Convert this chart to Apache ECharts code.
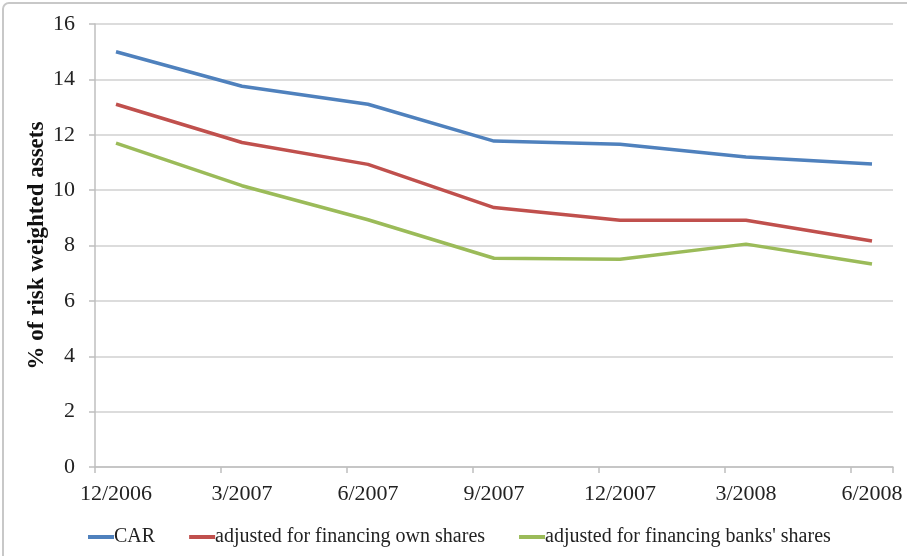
<!DOCTYPE html>
<html>
<head>
<meta charset="utf-8">
<script src="https://cdn.jsdelivr.net/npm/echarts@6/dist/echarts.min.js"></script>
<style>
  html, body { margin: 0; padding: 0; background: #fff; }
  #chart { width: 907px; height: 556px; }
</style>
</head>
<body>
<div id="chart"></div>
<script>
// Quarter-end observations (labels as shown on the axis)
const quarters = ['12/2006', '3/2007', '6/2007', '9/2007', '12/2007', '3/2008', '6/2008'];
const carValues = [15.0, 13.75, 13.1, 11.77, 11.66, 11.2, 10.94];
const ownSharesValues = [13.1, 11.72, 10.93, 9.37, 8.91, 8.91, 8.16];
const banksSharesValues = [11.7, 10.16, 8.93, 7.54, 7.5, 8.05, 7.33];
const yTicks = [0, 2, 4, 6, 8, 10, 12, 14, 16];

// Monthly date axis from the first to the last quarter
function buildMonths(first, last) {
  const [m0, y0] = first.split('/').map(Number);
  const [m1, y1] = last.split('/').map(Number);
  const out = [];
  let m = m0, y = y0;
  while (y < y1 || (y === y1 && m <= m1)) {
    out.push(m + '/' + y);
    m++;
    if (m > 12) { m = 1; y++; }
  }
  return out;
}
const months = buildMonths(quarters[0], quarters[quarters.length - 1]);
const quarterSet = new Set(quarters);

const pairs = vals => quarters.map((q, i) => [q, vals[i]]);

const serif = '"Liberation Serif", "Times New Roman", serif';
const chart = echarts.init(document.getElementById('chart'), null, { renderer: 'canvas' });

chart.setOption({
  animation: false,
  backgroundColor: '#fff',
  color: ['#4F81BD', '#C0504D', '#9BBB59'],
  graphic: [{
    type: 'rect',
    shape: { x: 3, y: 3, width: 920, height: 570, r: 6 },
    style: { fill: 'none', stroke: '#c8c8c8', lineWidth: 2 },
    silent: true, z: -1
  }],
  grid: { left: 95, right: 14, top: 24, bottom: 89 },
  legend: {
    top: 522,
    left: 83,
    itemWidth: 26,
    itemHeight: 4,
    itemGap: 34,
    icon: 'rect',
    textStyle: { fontFamily: serif, fontSize: 20, color: '#222', padding: [0, 0, 0, -5] },
    data: ['CAR', 'adjusted for financing own shares', "adjusted for financing banks' shares"]
  },
  xAxis: {
    type: 'category',
    data: months,
    boundaryGap: true,
    axisLine: { lineStyle: { color: '#bfbfbf', width: 1.5 } },
    axisTick: {
      show: true,
      length: 6,
      lineStyle: { color: '#bfbfbf', width: 1.5 },
      interval: (idx, name) => quarterSet.has(name)
    },
    axisLabel: {
      interval: (idx, name) => quarterSet.has(name),
      margin: 16,
      fontFamily: serif, fontSize: 22, color: '#222'
    },
    splitLine: { show: false }
  },
  yAxis: {
    type: 'value',
    min: yTicks[0],
    max: yTicks[yTicks.length - 1],
    interval: yTicks[1] - yTicks[0],
    name: '% of risk weighted assets',
    nameLocation: 'middle',
    nameGap: 46,
    nameMoveOverlap: false,
    nameRotate: 90,
    nameTextStyle: { fontFamily: serif, fontSize: 23, fontWeight: 'bold', color: '#111' },
    axisLine: { show: true, lineStyle: { color: '#bfbfbf', width: 1.5 } },
    axisTick: { show: true, length: 6, lineStyle: { color: '#bfbfbf', width: 1.5 } },
    axisLabel: { margin: 20, fontFamily: serif, fontSize: 22, color: '#222' },
    splitLine: { lineStyle: { color: '#d0d0d0', width: 1.5 } }
  },
  series: [
    { name: 'CAR', type: 'line', data: pairs(carValues), showSymbol: false, lineStyle: { width: 3.5 } },
    { name: 'adjusted for financing own shares', type: 'line', data: pairs(ownSharesValues), showSymbol: false, lineStyle: { width: 3.5 } },
    { name: "adjusted for financing banks' shares", type: 'line', data: pairs(banksSharesValues), showSymbol: false, lineStyle: { width: 3.5 } }
  ]
});
</script>
</body>
</html>
